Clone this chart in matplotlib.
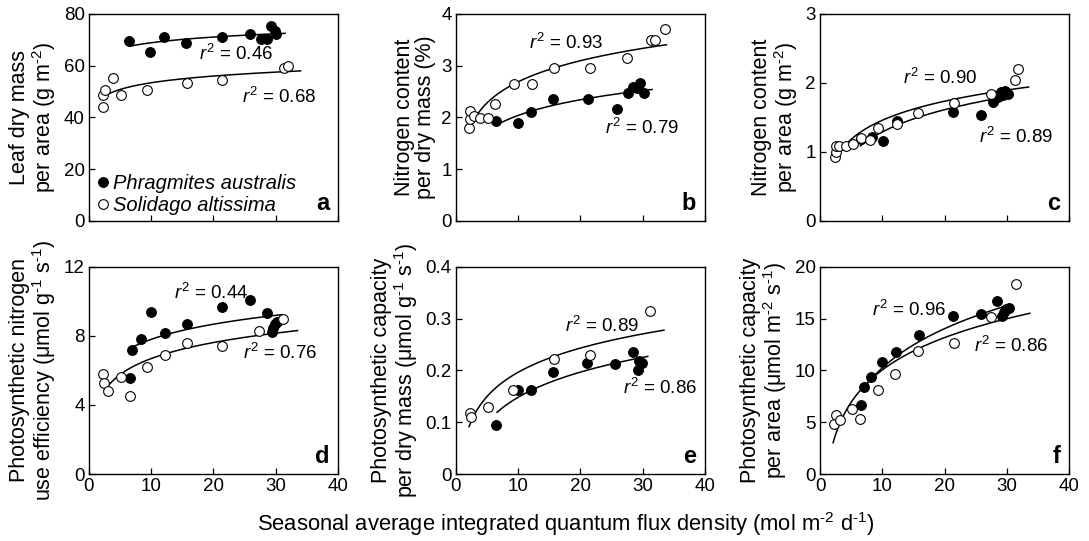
"""
Leaf traits of Phragmites australis and Solidago altissima vs. seasonal
average integrated quantum flux density, six panels with log fits.
"""
import numpy as np
import matplotlib
matplotlib.use("Agg")
import matplotlib.pyplot as plt

plt.rcParams['font.family'] = ['Liberation Sans', 'DejaVu Sans']
plt.rcParams['mathtext.fontset'] = 'custom'
plt.rcParams['mathtext.rm'] = 'Liberation Sans'
plt.rcParams['mathtext.it'] = 'Liberation Sans:italic'
plt.rcParams['mathtext.bf'] = 'Liberation Sans:bold'

# ---- data ----
# a: leaf dry mass per area (g m-2)
a_phr_x = [6.5, 9.8, 12.1, 15.6, 21.3, 25.9, 27.7, 28.6, 29.3, 29.8, 30.1]
a_phr_y = [69.6, 65.4, 71.2, 68.7, 71.2, 72.2, 70.3, 70.3, 75.4, 73.5, 72.2]
a_sol_x = [2.2, 2.3, 2.6, 3.8, 5.1, 9.4, 15.7, 21.4, 31.3, 31.9]
a_sol_y = [44.2, 48.5, 50.4, 55.3, 48.7, 50.6, 53.2, 54.5, 59.0, 60.0]

# b: nitrogen content per dry mass (%)
b_phr_x = [6.5, 9.9, 12.0, 15.6, 21.2, 25.8, 27.7, 28.4, 29.0, 29.6, 30.2]
b_phr_y = [1.94, 1.89, 2.10, 2.35, 2.36, 2.17, 2.48, 2.58, 2.56, 2.66, 2.48]
b_sol_x = [2.1, 2.25, 2.25, 2.95, 3.9, 5.1, 6.3, 9.3, 12.2, 15.8, 21.5, 27.5,
           31.3, 31.9, 33.6]
b_sol_y = [1.79, 1.97, 2.12, 2.02, 1.98, 1.98, 2.26, 2.65, 2.65, 2.95, 2.95,
           3.14, 3.50, 3.50, 3.70]

# c: nitrogen content per area (g m-2)
c_phr_x = [6.6, 8.3, 10.1, 12.3, 21.4, 25.9, 27.8, 28.6, 29.1, 29.4, 29.7, 30.2]
c_phr_y = [1.18, 1.21, 1.16, 1.45, 1.58, 1.54, 1.73, 1.80, 1.87, 1.83, 1.88,
           1.84]
c_sol_x = [2.4, 2.55, 2.55, 3.1, 4.2, 5.3, 6.6, 8.0, 9.3, 12.3, 15.8, 21.5,
           27.4, 31.3, 31.8]
c_sol_y = [0.93, 1.00, 1.08, 1.09, 1.09, 1.11, 1.20, 1.17, 1.34, 1.40, 1.56,
           1.71, 1.84, 2.04, 2.20]

# d: photosynthetic nitrogen use efficiency (umol g-1 s-1)
d_phr_x = [6.6, 6.85, 8.3, 9.9, 12.2, 15.7, 21.3, 25.9, 28.6, 29.4, 29.6, 29.9,
           30.2]
d_phr_y = [5.55, 7.17, 7.8, 9.4, 8.15, 8.7, 9.67, 10.06, 9.34, 8.2, 8.45, 8.7,
           8.8]
d_sol_x = [2.3, 2.4, 3.1, 5.15, 6.6, 9.4, 12.2, 15.8, 21.4, 27.3, 31.1]
d_sol_y = [5.8, 5.25, 4.8, 5.6, 4.5, 6.2, 6.9, 7.6, 7.4, 8.3, 9.0]

# e: photosynthetic capacity per dry mass (umol g-1 s-1)
e_phr_x = [6.5, 9.9, 12.0, 15.6, 21.0, 25.6, 28.4, 29.3, 29.4, 29.9]
e_phr_y = [0.095, 0.163, 0.163, 0.197, 0.214, 0.213, 0.236, 0.200, 0.219,
           0.214]
e_sol_x = [2.25, 2.35, 5.1, 9.1, 15.8, 21.5, 31.2]
e_sol_y = [0.117, 0.110, 0.130, 0.162, 0.222, 0.230, 0.314]

# f: photosynthetic capacity per area (umol m-2 s-1)
f_phr_x = [6.6, 7.05, 8.2, 10.0, 12.2, 15.9, 21.4, 25.9, 28.4, 29.2, 29.6,
           29.9, 30.3]
f_phr_y = [6.63, 8.39, 9.35, 10.85, 11.75, 13.4, 15.23, 15.42, 16.67, 15.23,
           15.6, 15.9, 16.0]
f_sol_x = [2.3, 2.5, 3.2, 5.2, 6.4, 9.3, 12.1, 15.8, 21.5, 27.4, 31.4]
f_sol_y = [4.83, 5.73, 5.25, 6.27, 5.31, 8.13, 9.66, 11.9, 12.67, 15.16, 18.37]

# x extent of the fitted curves (phr, sol)
fit_ranges = {
    'a': ((6.7, 31.5), (2.2, 34.0)),
    'b': ((6.5, 31.5), (2.3, 33.8)),
    'c': ((6.5, 31.0), (2.3, 33.5)),
    'd': ((7.0, 31.0), (2.6, 33.5)),
    'e': ((6.6, 30.8), (2.1, 33.4)),
    'f': ((6.7, 30.5), (2.1, 33.7)),
}

r2_text = {
    'a': [(17.7, 64.6, '0.46'), (24.5, 47.8, '0.68')],
    'b': [(11.8, 3.43, '0.93'), (24.0, 1.79, '0.79')],
    'c': [(13.4, 2.07, '0.90'), (25.6, 1.21, '0.89')],
    'd': [(13.6, 10.5, '0.44'), (24.8, 7.0, '0.76')],
    'e': [(17.5, 0.286, '0.89'), (26.9, 0.167, '0.86')],
    'f': [(8.3, 15.8, '0.96'), (24.8, 12.35, '0.86')],
}


def sup(s):
    # small raised exponent with a plain hyphen, as in the original
    return '$^{\\text{' + s + '}}$'


panels = [
    ('a', a_phr_x, a_phr_y, a_sol_x, a_sol_y, 80, [0, 20, 40, 60, 80],
     ['0', '20', '40', '60', '80'],
     'Leaf dry mass\nper area (g m' + sup('-2') + ')'),
    ('b', b_phr_x, b_phr_y, b_sol_x, b_sol_y, 4, [0, 1, 2, 3, 4],
     ['0', '1', '2', '3', '4'],
     'Nitrogen content\nper dry mass (%)'),
    ('c', c_phr_x, c_phr_y, c_sol_x, c_sol_y, 3, [0, 1, 2, 3],
     ['0', '1', '2', '3'],
     'Nitrogen content\nper area (g m' + sup('-2') + ')'),
    ('d', d_phr_x, d_phr_y, d_sol_x, d_sol_y, 12, [0, 4, 8, 12],
     ['0', '4', '8', '12'],
     'Photosynthetic nitrogen\nuse efficiency (μmol g' + sup('-1')
     + ' s' + sup('-1') + ')'),
    ('e', e_phr_x, e_phr_y, e_sol_x, e_sol_y, 0.4, [0, 0.1, 0.2, 0.3, 0.4],
     ['0', '0.1', '0.2', '0.3', '0.4'],
     'Photosynthetic capacity\nper dry mass (μmol g' + sup('-1')
     + ' s' + sup('-1') + ')'),
    ('f', f_phr_x, f_phr_y, f_sol_x, f_sol_y, 20, [0, 5, 10, 15, 20],
     ['0', '5', '10', '15', '20'],
     'Photosynthetic capacity\nper area (μmol m' + sup('-2')
     + ' s' + sup('-1') + ')'),
]

xticks = [0, 10, 20, 30, 40]

fig = plt.figure(figsize=(10.89, 5.41), dpi=100)

lefts = [0.0817, 0.4187, 0.7530]
bottoms = [0.5915, 0.1238]
w, h = 0.2287, 0.3830


def log_fit(x, y, lo, hi):
    b, a = np.polyfit(np.log(x), y, 1)
    xx = np.linspace(lo, hi, 200)
    return xx, a + b * np.log(xx)


for i, (lab, px, py, sx, sy, ymax, yt, ytl, ylab) in enumerate(panels):
    row, col = divmod(i, 3)
    ax = fig.add_axes([lefts[col], bottoms[row], w, h])

    # fitted curves
    (plo, phi), (slo, shi) = fit_ranges[lab]
    xx, yy = log_fit(px, py, plo, phi)
    ax.plot(xx, yy, color='black', lw=1.1, zorder=2)
    xx, yy = log_fit(sx, sy, slo, shi)
    ax.plot(xx, yy, color='black', lw=1.1, zorder=2)

    ax.plot(px, py, 'o', ms=7, mfc='black', mec='black', mew=0.8,
            ls='none', zorder=3, label='Phragmites australis')
    ax.plot(sx, sy, 'o', ms=7, mfc='white', mec='black', mew=0.8,
            ls='none', zorder=3, label='Solidago altissima')

    for tx, ty, val in r2_text[lab]:
        ax.text(tx, ty, '$\\mathit{r}^{\\text{2}}$ = ' + val, fontsize=13.5,
                ha='left', va='center')

    ax.text(0.965, 0.03, lab, transform=ax.transAxes, fontsize=17,
            fontweight='bold', ha='right', va='bottom')

    ax.set_xlim(0, 40)
    ax.set_ylim(0, ymax)
    ax.set_xticks(xticks)
    ax.set_yticks(yt)
    ax.set_yticklabels(ytl)
    if row == 0:
        ax.set_xticklabels([])
    else:
        ax.set_xticklabels([str(t) for t in xticks])
    ax.tick_params(direction='in', length=4, width=0.9, labelsize=13.5,
                   pad=3)
    for sp in ax.spines.values():
        sp.set_linewidth(1.0)
    ax.set_ylabel(ylab, fontsize=15.5, linespacing=1.0, labelpad=4)

    if lab == 'a':
        ax.legend(loc='lower left', frameon=False, handletextpad=0.1,
                  borderaxespad=0.1, labelspacing=0.15, borderpad=0.2,
                  prop={'style': 'italic', 'size': 14.5}, handlelength=0.8)

fig.text(0.52, 0.031,
         'Seasonal average integrated quantum flux density '
         '(mol m' + sup('-2') + ' d' + sup('-1') + ')',
         ha='center', va='center', fontsize=15.8)

fig.savefig('out.png', dpi=100)
